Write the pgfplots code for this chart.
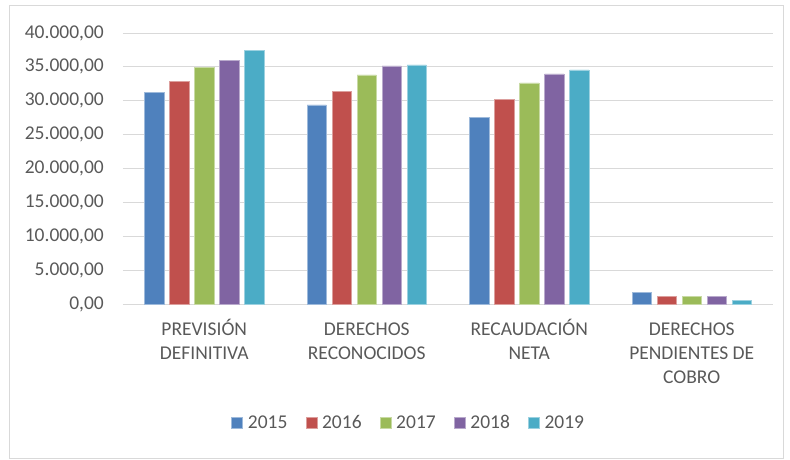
\documentclass[border=0pt]{standalone}
\usepackage{pgfplots}
\pgfplotsset{compat=1.18}
\usepackage{fontspec}
\setmainfont{Carlito}
\definecolor{c1}{HTML}{4F81BD}
\definecolor{c2}{HTML}{C0504D}
\definecolor{c3}{HTML}{9BBB59}
\definecolor{c4}{HTML}{8064A2}
\definecolor{c5}{HTML}{4BACC6}
\definecolor{txt}{HTML}{595959}
\definecolor{grd}{HTML}{D9D9D9}
\newcommand{\lbl}[1]{\begin{tabular}[t]{@{}c@{}}#1\end{tabular}}
\begin{document}
\begin{tikzpicture}
\useasboundingbox (-123pt,-155pt) rectangle (667pt,304pt);
\draw[grd, line width=0.8pt] (-114pt,-154pt) rectangle (660pt,299pt);
\begin{axis}[
  at={(0pt,0pt)}, anchor=south west,
  scale only axis, width=650pt, height=271pt,
  ybar=5.7pt, bar width=19.3pt,
  xmin=-0.5, xmax=3.5, ymin=0, ymax=40000,
  enlargelimits=false,
  xtick=data,
  xticklabels={{\lbl{PREVISIÓN\\DEFINITIVA}},{\lbl{DERECHOS\\RECONOCIDOS}},{\lbl{RECAUDACIÓN\\NETA}},{\lbl{DERECHOS\\PENDIENTES DE\\COBRO}}},
  xticklabel style={anchor=base, inner sep=0pt, yshift=-31.5pt, text=txt, font=\fontsize{19.5}{24}\selectfont},
  ytick={0,5000,...,40000},
  yticklabel style={anchor=east, inner sep=0pt, xshift=-19pt, text=txt, font=\fontsize{19.5}{24}\selectfont},
  /pgf/number format/.cd, use comma, 1000 sep={.}, fixed, fixed zerofill, precision=2, assume math mode=true,
  /pgfplots/.cd,
  scaled y ticks=false,
  major tick length=0pt,
  ymajorgrids, grid style={grd, line width=0.8pt},
  axis x line*=bottom, axis y line*=left,
  y axis line style={draw=none},
  x axis line style={grd, line width=1pt, -},
  legend columns=5,
  legend style={at={(0.438,-0.439)}, anchor=center, draw=none, fill=none,
    font=\fontsize{19.5}{24}\selectfont, text=txt,
    nodes={inner sep=0pt},
    /tikz/every odd column/.append style={column sep=5pt},
    /tikz/every even column/.append style={column sep=18pt}},
  legend image code/.code={\fill[#1] (0pt,-5.5pt) rectangle (11pt,5.5pt);},
]
\addplot[fill=c1, draw=c1!55!white, line width=0.6pt] coordinates {(0,31200) (1,29380) (2,27510) (3,1770)};
\addplot[fill=c2, draw=c2!55!white, line width=0.6pt] coordinates {(0,32830) (1,31350) (2,30170) (3,1130)};
\addplot[fill=c3, draw=c3!55!white, line width=0.6pt] coordinates {(0,34940) (1,33810) (2,32630) (3,1080)};
\addplot[fill=c4, draw=c4!55!white, line width=0.6pt] coordinates {(0,35980) (1,35140) (2,33960) (3,1180)};
\addplot[fill=c5, draw=c5!55!white, line width=0.6pt] coordinates {(0,37450) (1,35290) (2,34550) (3,590)};
\legend{2015,2016,2017,2018,2019}
\end{axis}
\end{tikzpicture}
\end{document}
